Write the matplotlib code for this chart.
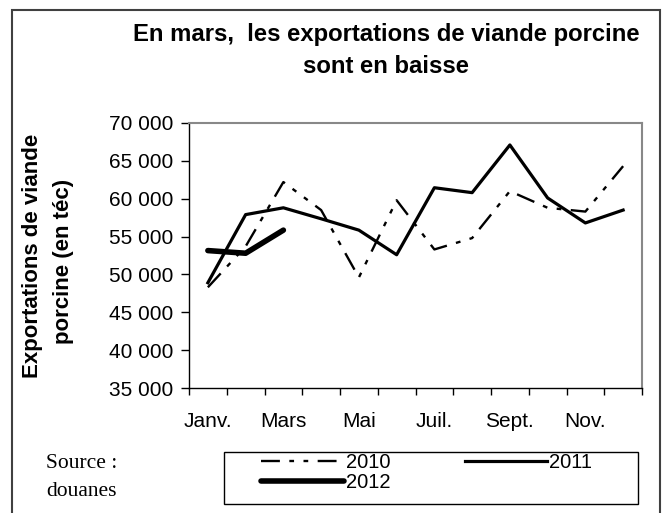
import matplotlib
matplotlib.use("Agg")
import matplotlib.pyplot as plt
from matplotlib.patches import Rectangle
from matplotlib.ticker import FuncFormatter, FixedLocator

plt.rcParams['font.family'] = ['Liberation Sans', 'DejaVu Sans']

months = ["Janv.", "Févr.", "Mars", "Avr.", "Mai", "Juin", "Juil.", "Août", "Sept.", "Oct.", "Nov.", "Déc."]
tick_labels = ["Janv.", "Mars", "Mai", "Juil.", "Sept.", "Nov."]
y2010 = [48300, 53700, 62200, 58500, 49600, 59800, 53300, 54800, 61000, 58800, 58300, 64300]
y2011 = [48900, 57900, 58800, 57350, 55850, 52600, 61450, 60800, 67100, 60100, 56800, 58500]
y2012 = [53150, 52800, 55850]

W, H = 664, 513
fig = plt.figure(figsize=(W / 100, H / 100), dpi=100)

def fx(px):
    return px / W

def fy(py):
    return 1 - py / H

# figure frame
fig.patches.append(Rectangle((fx(12), -0.05), fx(660) - fx(12), fy(10) + 0.05,
                             transform=fig.transFigure, fill=False,
                             edgecolor='#404040', linewidth=1.5))

ax = fig.add_axes([fx(189), fy(388), fx(642) - fx(189), fy(123) - fy(388)])
x = list(range(len(months)))

l10, = ax.plot(x, y2010, color='black', linewidth=1.7, label='2010')
l10.set_dashes((8, 4, 2, 4, 2, 4))
l11, = ax.plot(x, y2011, color='black', linewidth=2.3, label='2011')
l12, = ax.plot(x[:len(y2012)], y2012, color='black', linewidth=4, label='2012',
               solid_capstyle='round')

ax.set_xlim(-0.5, 11.5)
ax.set_ylim(35000, 70000)
ax.set_yticks(range(35000, 70001, 5000))
ax.yaxis.set_major_formatter(FuncFormatter(lambda v, p: f"{int(v):,}".replace(",", " ")))
ax.set_xticks([0, 2, 4, 6, 8, 10])
ax.set_xticklabels(tick_labels)
ax.xaxis.set_minor_locator(FixedLocator([i - 0.5 for i in range(13)]))
ax.tick_params(axis='x', which='major', length=0, labelsize=15, pad=17)
ax.tick_params(axis='x', which='minor', length=5, width=1, direction='out')
ax.tick_params(axis='y', length=6, width=1, direction='out', labelsize=15, pad=5)

for s in ['top', 'right']:
    ax.spines[s].set_color('#888888')
    ax.spines[s].set_linewidth(1.5)
for s in ['left', 'bottom']:
    ax.spines[s].set_color('black')
    ax.spines[s].set_linewidth(1)

fig.text(fx(386), fy(35), "En mars,  les exportations de viande porcine",
         ha='center', va='center', fontsize=17.2, fontweight='bold')
fig.text(fx(386), fy(67), "sont en baisse",
         ha='center', va='center', fontsize=17.2, fontweight='bold')

fig.text(fx(33), fy(256), "Exportations de viande",
         rotation=90, ha='center', va='center', fontsize=16, fontweight='bold')
fig.text(fx(63), fy(261), "porcine (en téc)",
         rotation=90, ha='center', va='center', fontsize=16, fontweight='bold')

serif = ['Liberation Serif', 'DejaVu Serif']
fig.text(fx(46), fy(463), "Source :", ha='left', va='center', fontsize=15.5, family=serif)
fig.text(fx(46), fy(491), "douanes", ha='left', va='center', fontsize=15.5, family=serif)

# legend frame
fig.patches.append(Rectangle((fx(224), fy(504)), fx(638) - fx(224), fy(452) - fy(504),
                             transform=fig.transFigure, fill=False,
                             edgecolor='black', linewidth=1))

leg = fig.legend(handles=[l10, l12, l11], labels=['2010', '2012', '2011'],
                 ncol=2, loc='upper left',
                 bbox_to_anchor=(fx(261), fy(453)),
                 fontsize=14.5, frameon=False, borderpad=0,
                 labelspacing=0.05, handlelength=4.1, handletextpad=0.1,
                 borderaxespad=0, columnspacing=3.7)

fig.savefig("out.png", dpi=100)
